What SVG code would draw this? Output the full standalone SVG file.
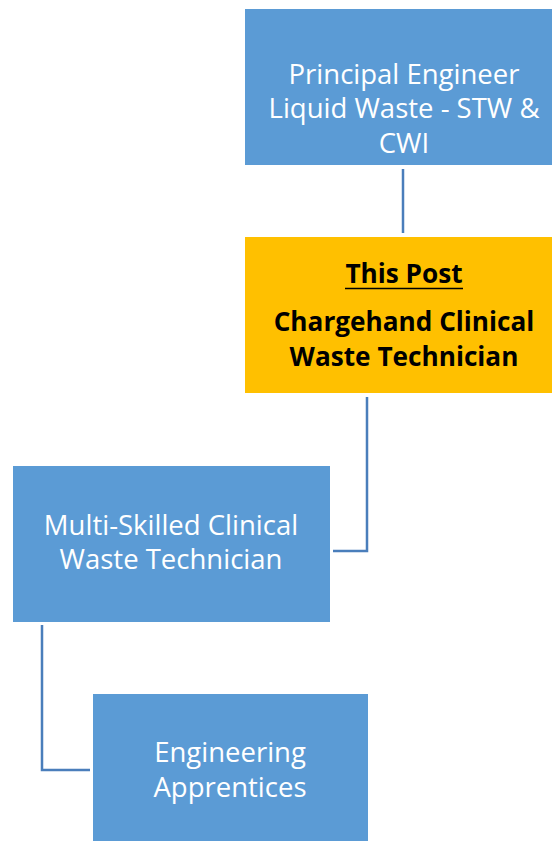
<svg xmlns="http://www.w3.org/2000/svg" width="552" height="841" viewBox="0 0 552 841">
<style>
.box{fill:#5B9BD5;stroke:#FFFFFF;stroke-width:1}
.post{fill:#FFC000;stroke:#FFFFFF;stroke-width:1}
.t{font-family:"Open Sans","Noto Sans",sans-serif;font-size:27.5px;fill:#FFFFFF;text-anchor:middle}
.b{font-family:"Open Sans","Noto Sans",sans-serif;font-size:26.2px;font-weight:bold;fill:#000000;text-anchor:middle}
.c{fill:none;stroke:#4A7EBB;stroke-width:2.5}
</style>
<rect width="552" height="841" fill="#FFFFFF"/>
<g id="connectors">
<path class="c" d="M403 169 V233"/>
<path class="c" d="M367 397 V551 H333"/>
<path class="c" d="M42 625 V770 H90"/>
</g>
<g id="principal">
<rect class="box" x="244.5" y="8.5" width="320" height="157"/>
<text class="t" x="404" y="84">Principal Engineer</text>
<text class="t" x="404" y="118">Liquid Waste - STW &amp;</text>
<text class="t" x="404" y="153">CWI</text>
</g>
<g id="thispost">
<rect class="post" x="244.5" y="236.5" width="320" height="157"/>
<text class="b" x="404" y="283">This Post</text>
<line x1="345" y1="288.5" x2="463" y2="288.5" stroke="#000000" stroke-width="1.5"/>
<text class="b" x="404" y="331">Chargehand Clinical</text>
<text class="b" x="404" y="366">Waste Technician</text>
</g>
<g id="multiskilled">
<rect class="box" x="12.5" y="465.5" width="318" height="157"/>
<text class="t" x="171" y="535">Multi-Skilled Clinical</text>
<text class="t" x="171" y="569">Waste Technician</text>
</g>
<g id="apprentices">
<rect class="box" x="92.5" y="693.5" width="276" height="160"/>
<text class="t" x="230" y="762">Engineering</text>
<text class="t" x="230" y="797">Apprentices</text>
</g>
</svg>
